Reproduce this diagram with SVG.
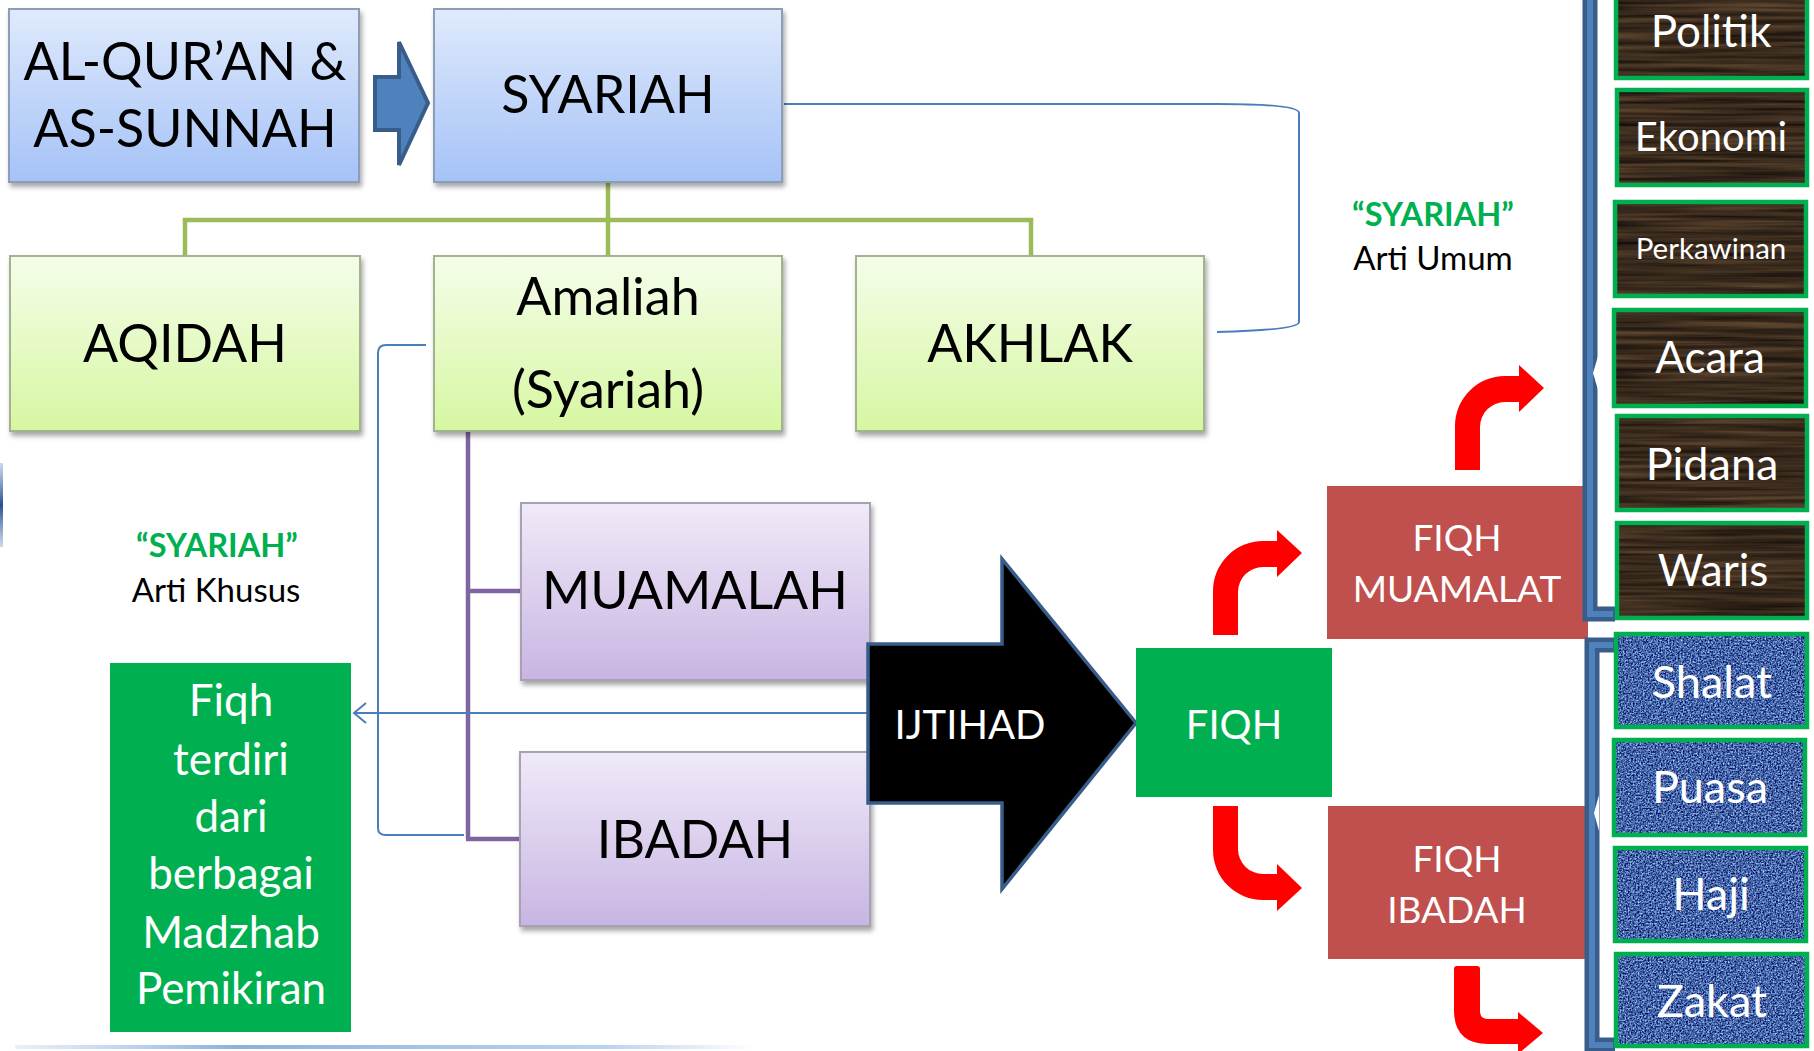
<svg xmlns="http://www.w3.org/2000/svg" width="1814" height="1051" viewBox="0 0 1814 1051">
  <style>
    text { font-family: Lato, "Open Sans", "Liberation Sans", sans-serif; text-anchor: middle; }
    .big { font-size: 52px; fill: #000; }
    .lbl { font-size: 33px; fill: #000; }
    .lblg { font-size: 32.5px; fill: #00B050; font-weight: bold; }
    .wt { fill: #fff; }
    .boxB { fill: url(#gBlue); stroke: #8C9DB8; stroke-width: 2; filter: url(#shadow); }
    .boxG { fill: url(#gGreen); stroke: #A3B28F; stroke-width: 2; filter: url(#shadow); }
    .boxP { fill: url(#gPurple); stroke: #A8A0B3; stroke-width: 2; filter: url(#shadow); }
    .wood { fill: #3b2a1e; filter: url(#woodTex); }
    .cloth { fill: #4a6aa8; filter: url(#clothTex); }
    .frame { fill: none; stroke: #00B050; stroke-width: 4.5; }
    .cGreen { fill: none; stroke: #9BBB59; stroke-width: 4.5; }
    .cPurple { fill: none; stroke: #8064A2; stroke-width: 4.5; }
    .cBlue { fill: none; stroke: #4A7EBB; stroke-width: 2; }
    .bent { fill: #FF0000; }
    .brOut { fill: none; stroke: #385D8A; stroke-width: 15; }
    .brIn { fill: none; stroke: #4F81BD; stroke-width: 6; }
  </style>
  <defs>
    <linearGradient id="gBlue" x1="0" y1="0" x2="0" y2="1">
      <stop offset="0" stop-color="#DFEAFC"/>
      <stop offset="1" stop-color="#A5C2F7"/>
    </linearGradient>
    <linearGradient id="gGreen" x1="0" y1="0" x2="0" y2="1">
      <stop offset="0" stop-color="#F5FDEA"/>
      <stop offset="1" stop-color="#D6F7A1"/>
    </linearGradient>
    <linearGradient id="gPurple" x1="0" y1="0" x2="0" y2="1">
      <stop offset="0" stop-color="#F0EAF8"/>
      <stop offset="1" stop-color="#C8B5E3"/>
    </linearGradient>
    <linearGradient id="gBottom" x1="0" y1="0" x2="1" y2="0">
      <stop offset="0" stop-color="#8EB4E3" stop-opacity="0.2"/>
      <stop offset="0.3" stop-color="#6F9BD6" stop-opacity="0.8"/>
      <stop offset="0.8" stop-color="#8EB4E3" stop-opacity="0.6"/>
      <stop offset="1" stop-color="#8EB4E3" stop-opacity="0"/>
    </linearGradient>
    <linearGradient id="gEdge" x1="0" y1="0" x2="0" y2="1">
      <stop offset="0" stop-color="#4F81BD" stop-opacity="0.3"/>
      <stop offset="0.5" stop-color="#2A4F8A"/>
      <stop offset="1" stop-color="#4F81BD" stop-opacity="0.3"/>
    </linearGradient>
    <filter id="shadow" x="-5%" y="-5%" width="112%" height="118%">
      <feDropShadow dx="2" dy="4" stdDeviation="2.5" flood-color="#000" flood-opacity="0.35"/>
    </filter>
    <filter id="woodTex" x="0" y="0" width="1" height="1" color-interpolation-filters="sRGB">
      <feTurbulence type="fractalNoise" baseFrequency="0.006 0.22" numOctaves="3" seed="7"/>
      <feColorMatrix type="matrix" values="0.42 0 0 0 0.02  0.32 0 0 0 0.01  0.22 0 0 0 0.005  0 0 0 0 1"/>
      <feComposite in2="SourceGraphic" operator="in"/>
    </filter>
    <filter id="clothTex" x="0" y="0" width="1" height="1" color-interpolation-filters="sRGB">
      <feTurbulence type="fractalNoise" baseFrequency="0.6 0.6" numOctaves="2" seed="2"/>
      <feColorMatrix type="matrix" values="1.3 0 0 0 -0.38  1.3 0 0 0 -0.26  1.0 0 0 0 0.15  0 0 0 0 1"/>
      <feComposite in2="SourceGraphic" operator="in"/>
    </filter>
    <marker id="openArrow" markerWidth="16" markerHeight="24" refX="14" refY="12" orient="auto" markerUnits="userSpaceOnUse">
      <path d="M2,2 L14,12 L2,22" fill="none" stroke="#4A7EBB" stroke-width="2"/>
    </marker>
    <!-- bent arrow, stem at origin pointing up then right -->
    <path id="bentUp" d="M0,0 V-44 A50,50 0 0 1 50,-94 H64 V-105 L89,-82 L64,-58 V-68 H50 A25,25 0 0 0 25,-43 V0 Z"/>
  </defs>

  <rect width="1814" height="1051" fill="#fff"/>

  <!-- page edge decorations -->
  <rect x="0" y="463" width="3" height="84" fill="url(#gEdge)"/>
  <rect x="15" y="1045" width="740" height="4" fill="url(#gBottom)"/>

  <!-- connectors -->
  <g id="connectors">
    <path class="cGreen" d="M608,183 V220 M185,256 V220 H1031 V256 M608,220 V256"/>
    <path class="cPurple" d="M468,431 V839 M466,591 H521 M466,839 H520"/>
    <path class="cBlue" d="M784,104 H1217 Q1299,104 1299,113 V322 Q1299,330 1217,332"/>
    <path class="cBlue" d="M426,345 H386 Q378,345 378,353 V828 Q378,835 386,835 H464"/>
    <path class="cBlue" d="M868,713 H354" marker-end="url(#openArrow)"/>
  </g>

  <!-- source block arrow -->
  <g id="arrow-source">
    <path d="M375,77 H399 V42 L428,103 L399,165 V130 H375 Z" fill="#4F81BD" stroke="#385D8A" stroke-width="4" stroke-linejoin="miter"/>
  </g>

  <g id="node-quran">
    <rect class="boxB" x="9" y="9" width="350" height="173"/>
    <text class="big" x="185" y="80" font-size="56">AL-QUR’AN &amp;</text>
    <text class="big" x="185" y="147" font-size="56">AS-SUNNAH</text>
  </g>
  <g id="node-syariah">
    <rect class="boxB" x="434" y="9" width="348" height="173"/>
    <text class="big" x="608" y="113">SYARIAH</text>
  </g>
  <g id="node-aqidah">
    <rect class="boxG" x="10" y="256" width="350" height="175"/>
    <text class="big" x="185" y="362">AQIDAH</text>
  </g>
  <g id="node-amaliah">
    <rect class="boxG" x="434" y="256" width="348" height="175"/>
    <text class="big" x="608" y="315" font-size="60">Amaliah</text>
    <text class="big" x="608" y="408" font-size="60">(Syariah)</text>
  </g>
  <g id="node-akhlak">
    <rect class="boxG" x="856" y="256" width="348" height="175"/>
    <text class="big" x="1030" y="362" font-size="51">AKHLAK</text>
  </g>
  <g id="node-muamalah">
    <rect class="boxP" x="521" y="503" width="349" height="177"/>
    <text class="big" x="695" y="609" font-size="53.5">MUAMALAH</text>
  </g>
  <g id="node-ibadah">
    <rect class="boxP" x="520" y="752" width="350" height="174"/>
    <text class="big" x="695" y="858">IBADAH</text>
  </g>

  <g id="label-umum">
    <text class="lblg" x="1433" y="226">“SYARIAH”</text>
    <text class="lbl" x="1433" y="270">Arti Umum</text>
  </g>
  <g id="label-khusus">
    <text class="lblg" x="217" y="557">“SYARIAH”</text>
    <text class="lbl" x="216" y="602">Arti Khusus</text>
  </g>

  <g id="node-fiqh-madzhab">
    <rect x="110" y="663" width="241" height="369" fill="#00B050"/>
    <g class="wt" font-size="44">
      <text x="231" y="716">Fiqh</text>
      <text x="231" y="775">terdiri</text>
      <text x="231" y="832">dari</text>
      <text x="231" y="889">berbagai</text>
      <text x="231" y="948">Madzhab</text>
      <text x="231" y="1004">Pemikiran</text>
    </g>
  </g>

  <g id="node-ijtihad">
    <path d="M868,644 H1002 V559 L1136,723 L1002,889 V803 H868 Z" fill="#000" stroke="#385D8A" stroke-width="3.5"/>
    <text class="wt" x="970" y="739" font-size="40">IJTIHAD</text>
  </g>

  <g id="node-fiqh">
    <rect x="1136" y="648" width="196" height="149" fill="#00B050"/>
    <text class="wt" x="1234" y="739" font-size="40">FIQH</text>
  </g>

  <g id="node-fiqh-muamalat">
    <rect x="1327" y="486" width="261" height="153" fill="#C0504D"/>
    <text class="wt" x="1457" y="551" font-size="37">FIQH</text>
    <text class="wt" x="1457" y="602" font-size="37">MUAMALAT</text>
  </g>
  <g id="node-fiqh-ibadah">
    <rect x="1328" y="806" width="260" height="153" fill="#C0504D"/>
    <text class="wt" x="1457" y="872" font-size="37">FIQH</text>
    <text class="wt" x="1457" y="923" font-size="37">IBADAH</text>
  </g>

  <!-- red bent arrows -->
  <g id="bent-arrows">
    <use href="#bentUp" class="bent" transform="translate(1213,635)"/>
    <use href="#bentUp" class="bent" transform="translate(1455,470)"/>
    <use href="#bentUp" class="bent" transform="translate(1213,806) scale(1,-1)"/>
    <path class="bent" d="M1454,969 Q1454,966 1457,966 H1477 Q1480,966 1480,969 V1011 Q1480,1019 1488,1019 H1518 V1012 L1543,1033 L1518,1054 V1044 H1488 Q1454,1044 1454,1010 Z"/>
  </g>

  <!-- brackets grouping the sub-topics -->
  <g id="brackets">
    <path class="brOut" d="M1590,-10 V614 H1615"/>
    <path class="brIn" d="M1590,-10 V614 H1613"/>
    <path d="M1599,353 L1593,373 L1599,393 Z" fill="#fff"/>
    <path class="brOut" d="M1615,645 H1592 V1045 H1615" stroke-width="12"/>
    <path class="brIn" d="M1613,645 H1592 V1045 H1613" stroke-width="4"/>
    <path d="M1599,795 L1594,813 L1599,831 Z" fill="#fff"/>
  </g>

  <!-- muamalat topics -->
  <g id="node-politik">
    <rect class="wood" x="1614" y="-10" width="195" height="90"/>
    <rect class="frame" x="1616" y="-10" width="191" height="88"/>
    <text class="wt" x="1711" y="47" font-size="44">Politik</text>
  </g>
  <g id="node-ekonomi">
    <rect class="wood" x="1615" y="88" width="194" height="99"/>
    <rect class="frame" x="1617" y="90" width="190" height="95"/>
    <text class="wt" x="1711" y="151" font-size="40">Ekonomi</text>
  </g>
  <g id="node-perkawinan">
    <rect class="wood" x="1613" y="200" width="195" height="98"/>
    <rect class="frame" x="1615" y="202" width="191" height="94"/>
    <text class="wt" x="1711" y="259" font-size="29.5">Perkawinan</text>
  </g>
  <g id="node-acara">
    <rect class="wood" x="1612" y="308" width="196" height="100"/>
    <rect class="frame" x="1614" y="310" width="192" height="96"/>
    <text class="wt" x="1710" y="373" font-size="44">Acara</text>
  </g>
  <g id="node-pidana">
    <rect class="wood" x="1615" y="414" width="194" height="98"/>
    <rect class="frame" x="1617" y="416" width="190" height="94"/>
    <text class="wt" x="1712" y="480" font-size="45">Pidana</text>
  </g>
  <g id="node-waris">
    <rect class="wood" x="1615" y="521" width="194" height="99"/>
    <rect class="frame" x="1617" y="523" width="190" height="95"/>
    <text class="wt" x="1713" y="586" font-size="44">Waris</text>
  </g>

  <!-- ibadah topics -->
  <g id="node-shalat">
    <rect class="cloth" x="1614" y="632" width="195" height="97"/>
    <rect class="frame" x="1616" y="634" width="191" height="93"/>
    <text class="wt" x="1712" y="698" font-size="45">Shalat</text>
  </g>
  <g id="node-puasa">
    <rect class="cloth" x="1612" y="738" width="195" height="99"/>
    <rect class="frame" x="1614" y="740" width="191" height="95"/>
    <text class="wt" x="1710" y="803" font-size="45">Puasa</text>
  </g>
  <g id="node-haji">
    <rect class="cloth" x="1613" y="846" width="195" height="97"/>
    <rect class="frame" x="1615" y="848" width="191" height="93"/>
    <text class="wt" x="1711" y="910" font-size="45">Haji</text>
  </g>
  <g id="node-zakat">
    <rect class="cloth" x="1614" y="952" width="195" height="96"/>
    <rect class="frame" x="1616" y="954" width="191" height="92"/>
    <text class="wt" x="1712" y="1017" font-size="45">Zakat</text>
  </g>
</svg>
